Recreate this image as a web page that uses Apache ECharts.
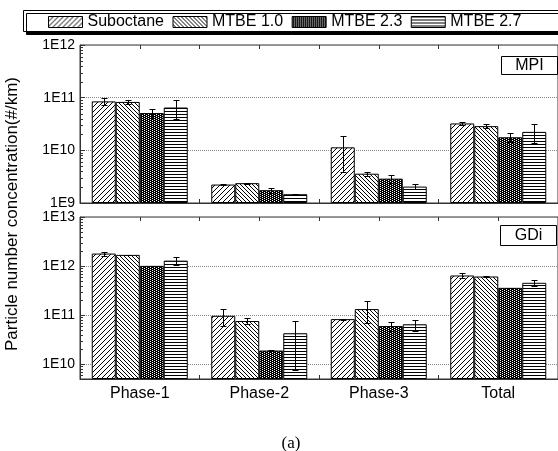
<!DOCTYPE html>
<html>
<head>
<meta charset="utf-8">
<script src="https://cdn.jsdelivr.net/npm/echarts@6/dist/echarts.min.js"></script>
<style>
html, body {margin:0; padding:0; background:#fff;}
#chart {width:558px; height:451px;}
</style>
</head>
<body>
<div id="chart"></div>
<script>
var categories = ['Phase-1', 'Phase-2', 'Phase-3', 'Total'];
var fuels = ['Suboctane', 'MTBE 1.0', 'MTBE 2.3', 'MTBE 2.7'];

// MPI (top panel), #/km
var mpiSuboctane = [8.5e10, 2.24e9, 1.14e10, 3.24e10];
var mpiMtbe10    = [8.3e10, 2.38e9, 3.6e9, 2.88e10];
var mpiMtbe23    = [5.1e10, 1.75e9, 2.9e9, 1.77e10];
var mpiMtbe27    = [6.5e10, 1.47e9, 2.05e9, 2.24e10];
var mpiSuboctaneErr = [1.35e10, 5e7, 7.6e9, 1.6e9];
var mpiMtbe10Err    = [7e9, 5e7, 3.2e8, 2.3e9];
var mpiMtbe23Err    = [1.0e10, 2e8, 5e8, 3.4e9];
var mpiMtbe27Err    = [2.5e10, 3e7, 2.1e8, 8.6e9];

// GDi (bottom panel), #/km
var gdiSuboctane = [1.8e12, 9.7e10, 8.3e10, 6.43e11];
var gdiMtbe10    = [1.69e12, 7.6e10, 1.33e11, 6.13e11];
var gdiMtbe23    = [1.01e12, 1.9e10, 6.0e10, 3.6e11];
var gdiMtbe27    = [1.29e12, 4.27e10, 6.5e10, 4.56e11];
var gdiSuboctaneErr = [1.8e11, 3.6e10, 2e9, 7.6e10];
var gdiMtbe10Err    = [2e10, 9.5e9, 6.4e10, 5e9];
var gdiMtbe23Err    = [1e10, 5e8, 1.3e10, 3e9];
var gdiMtbe27Err    = [2.2e11, 3.5e10, 1.65e10, 5.7e10];

var mpiDecades = [1e9, 1e10, 1e11, 1e12];
var gdiDecades = [1e10, 1e11, 1e12, 1e13];

var mpiValues = [mpiSuboctane, mpiMtbe10, mpiMtbe23, mpiMtbe27];
var mpiErrs = [mpiSuboctaneErr, mpiMtbe10Err, mpiMtbe23Err, mpiMtbe27Err];
var gdiValues = [gdiSuboctane, gdiMtbe10, gdiMtbe23, gdiMtbe27];
var gdiErrs = [gdiSuboctaneErr, gdiMtbe10Err, gdiMtbe23Err, gdiMtbe27Err];

var FONT = '"Liberation Sans", Arial, sans-serif';
var BAR_W = 24;

function hatch(kind) {  // black/white fill tiles
	var c = document.createElement('canvas');
	var w = 4, h = 4;
	if (kind == 'fwd') { w = 5; h = 5; }
	if (kind == 'check') { w = 4; h = 2; }
	if (kind == 'horiz') { w = 4; h = 3; }
	c.width = w; c.height = h;
	var ctx = c.getContext('2d');
	ctx.fillStyle = '#fff';
	ctx.fillRect(0, 0, w, h);
	ctx.fillStyle = '#000';
	if (kind == 'fwd') {
		for (var i = 0; i < w; i++) ctx.fillRect(i, w - 1 - i, 1, 1);
	} else if (kind == 'back') {
		for (var j = 0; j < w; j++) ctx.fillRect(j, j, 1, 1);
	} else if (kind == 'check') {
		// dark with staggered white dots
		ctx.fillRect(0, 0, w, h);
		ctx.fillStyle = '#fff';
		ctx.fillRect(0, 0, 1, 1);
		ctx.fillRect(2, 1, 1, 1);
	} else {
		ctx.fillRect(0, 0, w, 1);
	}
	return c;
}
var fills = [hatch('fwd'), hatch('back'), hatch('check'), hatch('horiz')];

function decadeLabel(decades) {
	return function(v) {
		for (var i = 0; i < decades.length; i++) {
			if (Math.abs(v - decades[i]) < decades[i] * 1e-6) return '1E' + Math.round(Math.log10(v));
		}
		return '';
	};
}

function minorValues(decades, lowest) {  // 2..9 x 10^n between labelled decades
	var out = [];
	[decades[0] / 10].concat(decades).forEach(function(d) {
		for (var k = 2; k <= 9; k++) {
			var v = k * d;
			if (v > lowest && v < decades[decades.length - 1]) out.push([0, v]);
		}
	});
	return out;
}

function barSeries(values, g) {
	return values.map(function(vals, i) {
		return {
			name: fuels[i], type: 'bar', xAxisIndex: g, yAxisIndex: g,
			data: vals, barWidth: BAR_W, barGap: '0%', clip: true,
			itemStyle: {color: {image: fills[i], repeat: 'repeat'}, borderColor: '#000', borderWidth: 1},
			emphasis: {disabled: true}
		};
	});
}

function errSeries(values, errs, g) {
	var data = [];
	values.forEach(function(vals, s) {
		vals.forEach(function(v, c) { data.push([c, v, errs[s][c], s]); });
	});
	return {
		type: 'custom', xAxisIndex: g, yAxisIndex: g, data: data, z: 5, silent: true,
		encode: {x: 0, y: 1},
		renderItem: function(params, api) {
			var c = api.value(0), v = api.value(1), e = api.value(2), s = api.value(3);
			var x = Math.round(api.coord([c, v])[0] + (s - 1.5) * BAR_W) + 0.5;
			var yHi = Math.round(api.coord([c, v + e])[1]) + 0.5;
			var yLo = Math.round(api.coord([c, v - e])[1]) + 0.5;
			var st = {stroke: '#000', lineWidth: 1};
			return {type: 'group', children: [
				{type: 'line', shape: {x1: x, y1: yHi, x2: x, y2: yLo}, style: st},
				{type: 'line', shape: {x1: x - 3, y1: yHi, x2: x + 3, y2: yHi}, style: st},
				{type: 'line', shape: {x1: x - 3, y1: yLo, x2: x + 3, y2: yLo}, style: st}
			]};
		}
	};
}

function minorTickSeries(vals, g) {
	return {
		type: 'custom', xAxisIndex: g, yAxisIndex: g, data: vals, silent: true, z: 4,
		encode: {x: 0, y: 1},
		renderItem: function(params, api) {
			var y = Math.round(api.coord([0, api.value(1)])[1]) + 0.5;
			var x = params.coordSys.x;
			return {type: 'line', shape: {x1: x, y1: y, x2: x + 3, y2: y}, style: {stroke: '#333', lineWidth: 1}};
		}
	};
}

function catAxis(g, showLabel) {
	return {
		type: 'category', gridIndex: g, data: categories, position: 'bottom',
		axisLine: {show: true, lineStyle: {color: '#333', width: 1}},
		axisTick: {show: false},
		axisLabel: {show: showLabel, color: '#000', fontFamily: FONT, fontSize: 16, margin: 7},
		splitLine: {show: false}
	};
}

function tickAxis(g, pos) {  // tick marks every half category, top and bottom
	return {
		type: 'value', gridIndex: g, position: pos, min: 0, max: 8, interval: 1,
		axisLine: {show: false},
		axisTick: {show: true, inside: true, length: 4, lineStyle: {color: '#333'}},
		axisLabel: {show: false}, splitLine: {show: false}
	};
}

function logAxis(g, min, max, decades) {
	return {
		type: 'log', gridIndex: g, logBase: 10, min: min, max: max, startValue: min,
		axisLine: {show: true, lineStyle: {color: '#333', width: 1}},
		axisTick: {show: true, inside: true, length: 5, lineStyle: {color: '#333'}},
		axisLabel: {color: '#000', fontFamily: FONT, fontSize: 14, margin: 5, formatter: decadeLabel(decades)},
		splitLine: {show: true, lineStyle: {type: 'dotted', color: '#888', width: 1}}
	};
}

var option = {
	animation: false,
	backgroundColor: '#fff',
	legend: {
		data: fuels, left: 48, top: 14, orient: 'horizontal', z: 10,
		icon: 'rect', itemWidth: 34, itemHeight: 11, itemGap: 8.5,
		padding: 0, selectedMode: false,
		itemStyle: {borderColor: '#000', borderWidth: 1},
		textStyle: {color: '#000', fontFamily: FONT, fontSize: 16}
	},
	grid: [
		{left: 80, right: -4, top: 45, height: 158, show: true, borderColor: '#333', borderWidth: 1},
		{left: 80, right: -4, top: 217, height: 162, show: true, borderColor: '#333', borderWidth: 1}
	],
	xAxis: [
		catAxis(0, false), catAxis(1, true),
		tickAxis(0, 'bottom'), tickAxis(0, 'top'),
		tickAxis(1, 'bottom'), tickAxis(1, 'top')
	],
	yAxis: [
		logAxis(0, 1e9, 1e12, mpiDecades),
		logAxis(1, 5e9, 1e13, gdiDecades)
	],
	graphic: [
		{type: 'rect', z: 1, shape: {x: 23.5, y: 10.5, width: 560, height: 21},
		 style: {fill: '#fff', stroke: '#000', lineWidth: 1, shadowColor: '#000', shadowBlur: 0, shadowOffsetX: 3, shadowOffsetY: 3}},
		{type: 'rect', z: 20, shape: {x: 501.5, y: 56.5, width: 56, height: 18}, style: {fill: '#fff', stroke: '#000', lineWidth: 1}},
		{type: 'text', z: 21, x: 529.5, y: 66, style: {text: 'MPI', align: 'center', verticalAlign: 'middle', fill: '#000', font: '16px ' + FONT}},
		{type: 'rect', z: 20, shape: {x: 500.5, y: 225.5, width: 56, height: 20}, style: {fill: '#fff', stroke: '#000', lineWidth: 1}},
		{type: 'text', z: 21, x: 528.5, y: 236, style: {text: 'GDi', align: 'center', verticalAlign: 'middle', fill: '#000', font: '16px ' + FONT}},
		{type: 'text', z: 21, x: 12, y: 214, rotation: Math.PI / 2,
		 style: {text: 'Particle number concentration(#/km)', align: 'center', verticalAlign: 'middle', fill: '#000', font: '17px ' + FONT}},
		{type: 'text', z: 21, x: 291, y: 444, style: {text: '(a)', align: 'center', verticalAlign: 'middle', fill: '#000', font: '17px "Liberation Serif", "Times New Roman", serif'}}
	],
	series: [].concat(
		barSeries(mpiValues, 0),
		barSeries(gdiValues, 1),
		[errSeries(mpiValues, mpiErrs, 0), errSeries(gdiValues, gdiErrs, 1),
		 minorTickSeries(minorValues(mpiDecades, 1e9), 0),
		 minorTickSeries(minorValues(gdiDecades, 5e9), 1)]
	)
};

echarts.init(document.getElementById('chart')).setOption(option);
</script>
</body>
</html>
